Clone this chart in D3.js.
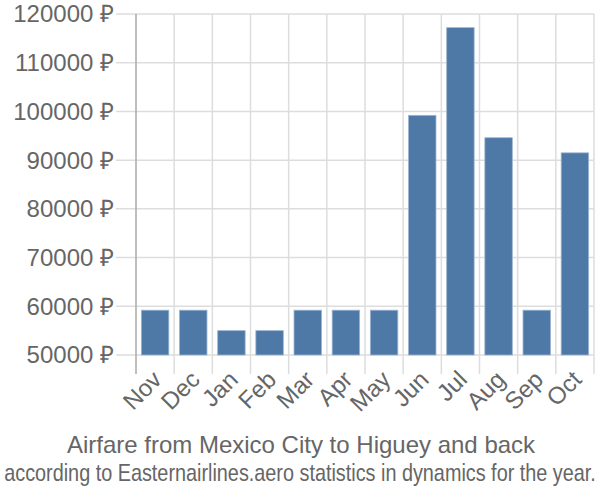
<!DOCTYPE html>
<html><head><meta charset="utf-8">
<script src="https://cdn.jsdelivr.net/npm/d3@7"></script>
<style>body{margin:0;background:#fff}svg{display:block}text{font-family:"Liberation Sans",Arial,sans-serif;fill:#666}</style>
</head><body><div id="c"></div>
<script>
const months = ["Nov","Dec","Jan","Feb","Mar","Apr","May","Jun","Jul","Aug","Sep","Oct"];
const prices = [59200,59200,55000,55000,59200,59200,59200,99200,117200,94600,59200,91500];
const yTicks = [50000,60000,70000,80000,90000,100000,110000,120000];
const title = "Airfare from Mexico City to Higuey and back";
const subtitle = "according to Easternairlines.aero statistics in dynamics for the year.";

(function(){
const W=600,H=500, mL=136, mR=594, mT=14, mB=355;
const svg=d3.select("#c").append("svg").attr("width",W).attr("height",H);
const x=d3.scaleBand().domain(months).range([mL,mR]).paddingInner(0.28).paddingOuter(0.14);
const xg=d3.scaleBand().domain(months).range([mL,mR]);
const y=d3.scaleLinear().domain([50000,120000]).range([mB,mT]);

svg.append("g").selectAll("line").data(yTicks).join("line")
 .attr("x1",mL-20).attr("x2",mR).attr("y1",d=>y(d)).attr("y2",d=>y(d))
 .attr("stroke","#ddd").attr("stroke-width",1.5);
svg.append("g").selectAll("line").data(months).join("line")
 .attr("x1",d=>xg(d)+xg.step()).attr("x2",d=>xg(d)+xg.step())
 .attr("y1",mT).attr("y2",mB+19)
 .attr("stroke","#ddd").attr("stroke-width",1.5);
svg.append("line").attr("x1",mL).attr("x2",mL).attr("y1",mT).attr("y2",mB+19)
 .attr("stroke","#aaa").attr("stroke-width",1.5);

svg.append("g").selectAll("rect").data(prices).join("rect")
 .attr("x",(d,i)=>x(months[i])).attr("width",x.bandwidth())
 .attr("y",d=>y(d)).attr("height",d=>mB-y(d))
 .attr("fill","#4e79a7").attr("stroke","#9db5d0").attr("stroke-width",0.8);

svg.append("g").selectAll("text").data(yTicks).join("text")
 .attr("x",114).attr("y",d=>y(d)).attr("dy","0.35em").attr("text-anchor","end")
 .attr("font-size",24).text(d=>d+" ₽");
svg.append("g").selectAll("text").data(months).join("text")
 .attr("text-anchor","end").attr("font-size",24)
 .attr("transform",d=>`translate(${xg(d)+xg.bandwidth()/2+8},${mB+26}) rotate(-45)`)
 .text(d=>d);

svg.append("text").attr("x",301).attr("y",453).attr("text-anchor","middle").attr("font-size",24).text(title);
const sub=svg.append("text").attr("text-anchor","middle").attr("font-size",24).text(subtitle);
const natural=sub.node().getComputedTextLength();
const sx=Math.min(1,592/natural);
sub.attr("transform",`translate(300,481) scale(${sx},1)`);
})();
</script></body></html>
